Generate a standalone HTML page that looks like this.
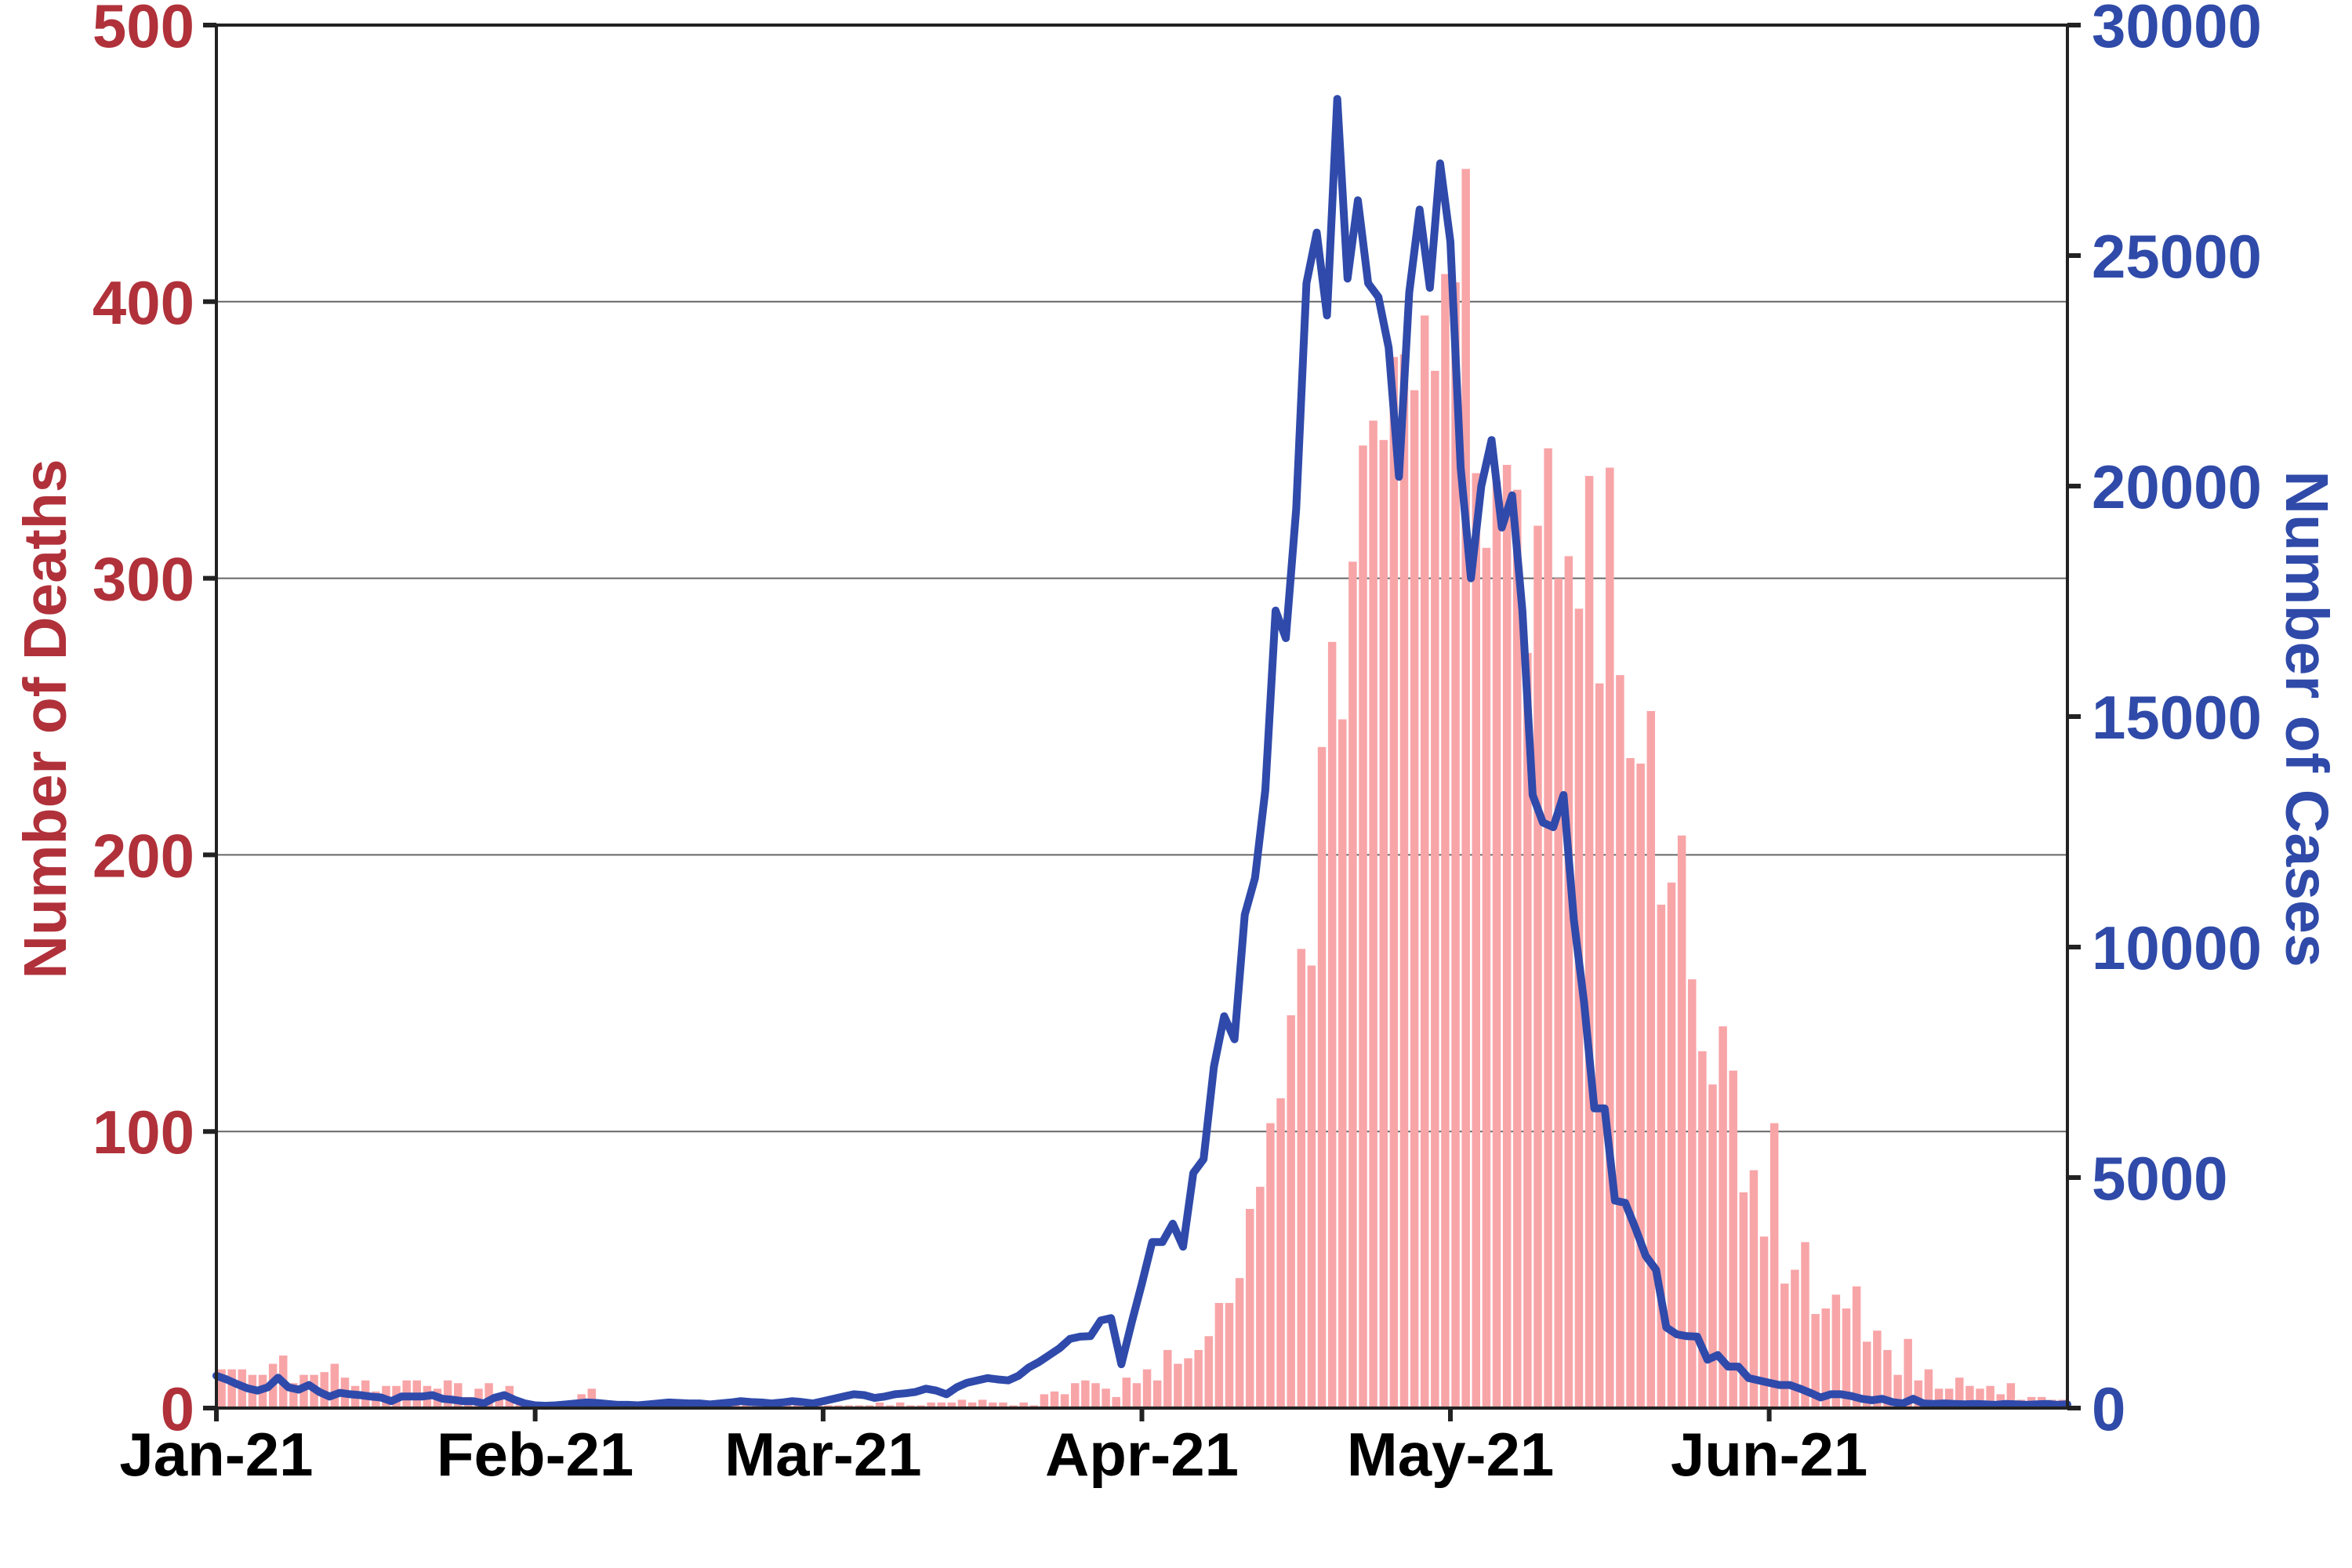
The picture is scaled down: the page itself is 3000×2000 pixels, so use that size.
<!DOCTYPE html>
<html><head><meta charset="utf-8"><style>
html,body{margin:0;padding:0;background:#fff;}
svg{display:block;font-family:"Liberation Sans",sans-serif;font-weight:bold;}
</style></head><body>
<svg id="chart" width="3000" height="2000" viewBox="0 0 3000 2000" xmlns="http://www.w3.org/2000/svg">
<g id="grid"></g>
<g id="bars"></g>
<g id="line"></g>
<g id="axes"></g>
<text x="0" y="0" transform="translate(84,917) rotate(-90)" text-anchor="middle" font-size="77" fill="#B0313A">Number of Deaths</text>
<text x="0" y="0" transform="translate(2916,917) rotate(90)" text-anchor="middle" font-size="77" fill="#2F4AA8">Number of Cases</text>
</svg>
<script>
const deaths = [14,14,14,12,12,16,19,9,12,12,13,16,11,8,10,6,8,8,10,10,8,7,10,9,4,7,9,5,8,3,2,2,
2,2,1,5,7,3,2,2,1,1,1,2,1,1,1,1,2,1,1,1,1,1,2,2,1,1,1,1,
1,1,1,1,2,1,2,1,1,2,2,2,3,2,3,2,2,1,2,1,
5,6,5,9,10,9,7,4,11,9,14,10,21,16,18,21,26,38,38,47,72,80,103,112,142,166,160,
239,277,249,306,348,357,350,380,381,368,395,375,410,407,448,338,311,335,341,332,273,319,347,300,308,289,337,262,340,265,235,233,252,
182,190,207,155,129,117,138,122,78,86,62,103,45,50,60,34,36,41,36,44,24,28,21,12,25,10,14,7,7,11,8,7,8,5,9,3,4,4,3,3];
const cases = [700,620,520,430,380,450,660,450,400,500,350,250,330,300,280,250,230,150,250,250,250,280,200,180,150,150,100,220,280,180,100,60,
50,60,80,100,120,110,90,70,70,60,80,100,120,110,100,100,80,100,120,150,130,120,100,120,150,130,100,150,
200,250,300,280,220,250,300,320,350,420,380,300,450,550,600,650,620,600,700,880,1000,1150,1300,1500,1550,1560,1900,1950,950,1850,2700,
3600,3600,4000,3500,5100,5400,7400,8500,8000,10700,11500,13400,17300,16700,19500,24400,25500,23700,28400,24500,26200,24400,24100,23000,20200,24200,26000,24300,27000,25300,
20400,18000,20000,21000,19100,19800,17300,13300,12700,12600,13300,10600,8800,6500,6500,4500,4450,3900,3300,3000,1750,1600,1560,1550,1050,1150,900,900,650,600,550,500,500,420,330,230,300,300,260,200,170,200,130,100,200,
100,90,100,90,80,90,80,70,90,80,70,80,90,70,80];
const deathTicks = [0,100,200,300,400,500];
const caseTicks = [0,5000,10000,15000,20000,25000,30000];
const monthLabels = ["Jan-21","Feb-21","Mar-21","Apr-21","May-21","Jun-21"];
const monthDays = [0,31,59,90,120,151];

const L=276,R=2637,T=32,B=1796;
const xMax=180;
const x = d => L + d/xMax*(R-L);
const yD = v => B - v/500*(B-T);
const yC = v => B - v/30000*(B-T);
const NS="http://www.w3.org/2000/svg";
function mk(tag, parent, attrs){const e=document.createElementNS(NS,tag);for(const k in attrs)e.setAttribute(k,attrs[k]);parent.appendChild(e);return e;}

const grid=document.getElementById('grid');
deathTicks.forEach(t=>{ if(t>0&&t<500){
  const g=mk('line',grid,{x1:L,x2:R,y1:yD(t),y2:yD(t),stroke:'#666',"stroke-width":2});
  
  
}});

const bars=document.getElementById('bars');
const bw=(R-L)/xMax*0.8;
deaths.forEach((v,i)=>{
  const r=mk('rect',bars,{x:x(i+0.5)-bw/2,y:yD(v),width:bw,height:B-yD(v),fill:'#F8A5A8'});
  
  
});

const lg=document.getElementById('line');
const pts=cases.map((v,i)=>x(i).toFixed(1)+','+yC(v).toFixed(1)).join(' ');
const pl=mk('polyline',lg,{points:pts,fill:'none',stroke:'#2F4AAA',"stroke-width":10,"stroke-linejoin":'round',"stroke-linecap":'round'});



const ax=document.getElementById('axes');
const frame=mk('rect',ax,{x:L,y:T,width:R-L,height:B-T,fill:'none',stroke:'#222',"stroke-width":4});


deathTicks.forEach(t=>{
  const tk=mk('line',ax,{x1:L-17,x2:L,y1:yD(t),y2:yD(t),stroke:'#222',"stroke-width":6});
  
  
  const tx=mk('text',ax,{x:248,y:yD(t)+28,"text-anchor":'end',"font-size":78,fill:'#B0313A'});
  tx.textContent=t;
  
  
});
caseTicks.forEach(t=>{
  const tk=mk('line',ax,{x1:R,x2:R+17,y1:yC(t),y2:yC(t),stroke:'#222',"stroke-width":6});
  
  
  const tx=mk('text',ax,{x:2668,y:yC(t)+28,"text-anchor":'start',"font-size":78,fill:'#2F4AA8'});
  tx.textContent=t;
  
  
});
monthDays.forEach((d,i)=>{
  const tk=mk('line',ax,{x1:x(d),x2:x(d),y1:B,y2:B+17,stroke:'#222',"stroke-width":6});
  
  
  const tx=mk('text',ax,{x:x(d),y:1882,"text-anchor":'middle',"font-size":78,fill:'#000'});
  tx.textContent=monthLabels[i];
  
  
});
</script>
</body></html>
